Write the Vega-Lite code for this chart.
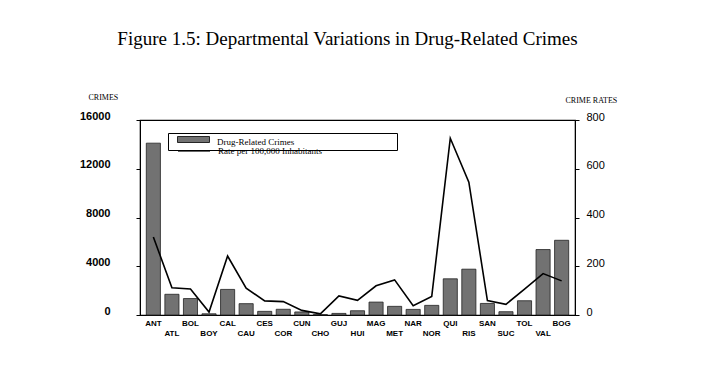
{
  "$schema": "https://vega.github.io/schema/vega-lite/v6.json",
  "width": 435,
  "height": 195,
  "autosize": {"type": "none"},
  "padding": {"left": 140, "top": 120, "right": 128, "bottom": 73},
  "background": "white",
  "title": {
    "text": "Figure 1.5: Departmental Variations in Drug-Related Crimes",
    "font": "Liberation Serif",
    "fontSize": 19,
    "fontWeight": "normal",
    "color": "black",
    "anchor": "middle",
    "frame": "group",
    "offset": 44,
    "dx": -10
  },
  "config": {
    "view": {"stroke": "black", "strokeWidth": 1.2}
  },
  "data": {
    "values": [
      {"dept": "ANT", "crimes": 14100, "rate": 320},
      {"dept": "ATL", "crimes": 1700, "rate": 112},
      {"dept": "BOL", "crimes": 1350, "rate": 107},
      {"dept": "BOY", "crimes": 100, "rate": 12},
      {"dept": "CAL", "crimes": 2100, "rate": 242},
      {"dept": "CAU", "crimes": 930, "rate": 110},
      {"dept": "CES", "crimes": 300, "rate": 58},
      {"dept": "COR", "crimes": 470, "rate": 55},
      {"dept": "CUN", "crimes": 250, "rate": 19},
      {"dept": "CHO", "crimes": 30, "rate": 5},
      {"dept": "GUJ", "crimes": 130, "rate": 78},
      {"dept": "HUI", "crimes": 350, "rate": 60},
      {"dept": "MAG", "crimes": 1060, "rate": 120},
      {"dept": "MET", "crimes": 710, "rate": 144},
      {"dept": "NAR", "crimes": 460, "rate": 38},
      {"dept": "NOR", "crimes": 790, "rate": 76},
      {"dept": "QUI", "crimes": 2970, "rate": 725},
      {"dept": "RIS", "crimes": 3760, "rate": 545},
      {"dept": "SAN", "crimes": 950, "rate": 59},
      {"dept": "SUC", "crimes": 270, "rate": 44},
      {"dept": "TOL", "crimes": 1170, "rate": 106},
      {"dept": "VAL", "crimes": 5370, "rate": 170},
      {"dept": "BOG", "crimes": 6130, "rate": 140}
    ]
  },
  "encoding": {
    "x": {
      "field": "dept",
      "type": "nominal",
      "sort": null,
      "scale": {"paddingInner": 0.24, "paddingOuter": 0.34},
      "axis": {
        "title": null,
        "labelAngle": 0,
        "labelFont": "Liberation Sans",
        "labelFontWeight": "bold",
        "labelFontSize": 8,
        "labelColor": "black",
        "ticks": false,
        "domain": false,
        "labelPadding": {"condition": {"test": "indexof(['ATL','BOY','CAU','COR','CHO','HUI','MET','NOR','RIS','SUC','VAL'], datum.value) >= 0", "value": 14}, "value": 4}
      }
    }
  },
  "layer": [
    {
      "mark": {"type": "bar", "stroke": "#222222", "strokeWidth": 0.8},
      "encoding": {
        "y": {
          "field": "crimes",
          "type": "quantitative",
          "scale": {"domain": [0, 16000]},
          "axis": {
            "title": "CRIMES",
            "titleAngle": 0,
            "titleX": -52,
            "titleY": -23,
            "titleAlign": "left",
            "titleBaseline": "middle",
            "titleFont": "Liberation Serif",
            "titleFontSize": 8,
            "titleFontWeight": "normal",
            "titleColor": "black",
            "values": [0, 4000, 8000, 12000, 16000],
            "format": "d",
            "grid": false,
            "labelFont": "Liberation Sans",
            "labelFontWeight": "bold",
            "labelFontSize": 11,
            "labelColor": "black",
            "labelAlign": "right",
            "labelPadding": 26,
            "labelOffset": -4,
            "tickSize": 4,
            "tickColor": "black",
            "domainColor": "black"
          }
        },
        "fill": {
          "datum": "Drug-Related Crimes",
          "scale": {"range": ["#727272"]},
          "legend": {
            "title": "\u00a0",
            "titleOrient": "right",
            "titleFontSize": 9,
            "titlePadding": 100,
            "orient": "none",
            "legendX": 28,
            "legendY": 13,
            "padding": 3,
            "strokeColor": "black",
            "labelFont": "Liberation Serif",
            "labelFontSize": 9,
            "labelColor": "black",
            "labelBaseline": "bottom",
            "symbolSize": 400,
            "symbolOffset": 12,
            "labelOffset": 13,
            "symbolType": "M-1.6,-1H1.6V-0.4H-1.6Z",
            "symbolStrokeColor": "black",
            "symbolStrokeWidth": 0.8
          }
        }
      }
    },
    {
      "mark": {"type": "line", "strokeWidth": 1.6},
      "encoding": {
        "y": {
          "field": "rate",
          "type": "quantitative",
          "scale": {"domain": [0, 800]},
          "axis": {
            "orient": "right",
            "title": "CRIME RATES",
            "titleAngle": 0,
            "titleX": -10,
            "titleY": -20,
            "titleAlign": "left",
            "titleBaseline": "middle",
            "titleFont": "Liberation Serif",
            "titleFontSize": 8,
            "titleFontWeight": "normal",
            "titleColor": "black",
            "values": [0, 200, 400, 600, 800],
            "grid": false,
            "labelFont": "Liberation Sans",
            "labelFontSize": 11,
            "labelColor": "black",
            "labelPadding": 7,
            "labelOffset": -3,
            "tickSize": 4,
            "tickColor": "black",
            "domainColor": "black"
          }
        },
        "stroke": {
          "datum": "Rate per 100,000 Inhabitants",
          "scale": {"range": ["black"]},
          "legend": {
            "title": null,
            "orient": "none",
            "legendX": 31,
            "legendY": 25,
            "padding": 0,
            "labelFont": "Liberation Serif",
            "labelFontSize": 9,
            "labelColor": "black",
            "symbolSize": 100,
            "symbolOffset": 17,
            "labelOffset": 18,
            "symbolType": "M-3.2,0H3.2",
            "symbolStrokeWidth": 1.2
          }
        }
      }
    }
  ],
  "resolve": {"scale": {"y": "independent"}}
}
